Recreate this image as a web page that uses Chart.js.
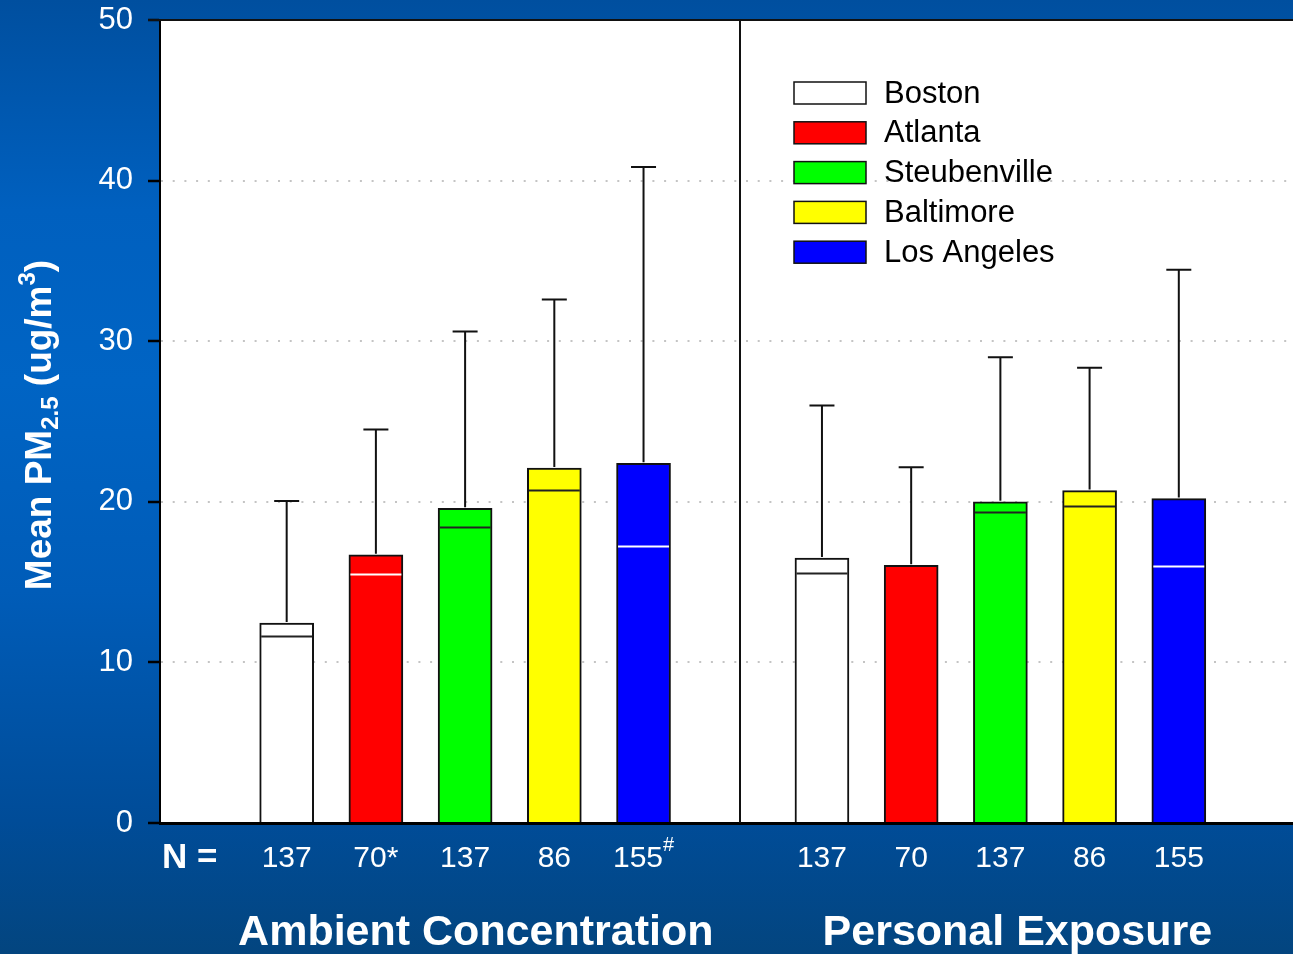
<!DOCTYPE html>
<html>
<head>
<meta charset="utf-8">
<title>Mean PM2.5 - Ambient vs Personal</title>
<script src="https://cdn.jsdelivr.net/npm/chart.js@4.4.0/dist/chart.umd.min.js"></script>
<style>
  html, body { margin: 0; padding: 0; }
  body {
    width: 1293px; height: 954px; overflow: hidden;
    background: linear-gradient(to bottom, #004f9f 0%, #0060bf 22%, #0064c4 40%, #005cb8 62%, #004c98 86%, #03457f 100%);
  }
  canvas { display: block; }
</style>
</head>
<body>
<canvas id="chart" width="1293" height="954"></canvas>
<script>
// ---- data ---------------------------------------------------------------
const cities = ["Boston", "Atlanta", "Steubenville", "Baltimore", "Los Angeles"];
const groups = ["Ambient Concentration", "Personal Exposure"];

const ambientMean   = [12.45, 16.7, 19.6, 22.1, 22.4];
const ambientMedian = [11.65, 15.5, 18.45, 20.75, 17.25];
const ambientUpper  = [20.05, 24.5, 30.6, 32.6, 40.85];
const ambientN      = [137, 70, 137, 86, 155];
const ambientNote   = ["", "*", "", "", "#"];

const personalMean   = [16.5, 16.05, 20.0, 20.7, 20.2];
const personalMedian = [15.55, null, 19.35, 19.75, 16.0];
const personalUpper  = [26.0, 22.15, 29.0, 28.35, 34.45];
const personalN      = [137, 70, 137, 86, 155];
const personalNote   = ["", "", "", "", ""];

const yTicks = [0, 10, 20, 30, 40, 50];

// ---- styling --------------------------------------------------------------
const cityColors   = ["#ffffff", "#ff0000", "#00ff00", "#ffff00", "#0000ff"];
const medianColors = ["#222222", "#ffffff", "#222222", "#222222", "#ffffff"];
const FONT = "Arial, 'Liberation Sans', sans-serif";

// slot of each bar on the x axis: ambient 1..5, personal 7..11
const ambientSlot = i => i + 1;
const personalSlot = i => i + 7;
const dividerAt = 6.08;
const groupLabelAt = [3.12, 9.19];

const datasets = cities.map((city, i) => ({
    label: city,
    data: [
        { x: ambientSlot(i), y: ambientMean[i], median: ambientMedian[i], upper: ambientUpper[i] },
        { x: personalSlot(i), y: personalMean[i], median: personalMedian[i], upper: personalUpper[i] }
    ],
    backgroundColor: cityColors[i],
    borderColor: "#111",
    borderWidth: 2,
    borderSkipped: "bottom",
    barThickness: 54,
    grouped: false,
    medianColor: medianColors[i]
}));

const decor = {
    id: "decor",
    beforeDraw(chart) {
        const { ctx, chartArea: a } = chart;
        ctx.save();
        ctx.fillStyle = "#ffffff";
        ctx.fillRect(a.left, a.top, a.right - a.left, a.bottom - a.top);
        ctx.restore();
    },
    afterDatasetsDraw(chart) {
        const { ctx } = chart;
        const y = chart.scales.y;
        ctx.save();
        chart.data.datasets.forEach((ds, di) => {
            const meta = chart.getDatasetMeta(di);
            meta.data.forEach((bar, j) => {
                const pt = ds.data[j];
                const half = bar.width / 2;
                // median line inside the bar
                if (pt.median != null) {
                    const ym = Math.round(y.getPixelForValue(pt.median)) + 0.5;
                    ctx.strokeStyle = ds.medianColor;
                    ctx.lineWidth = 2;
                    ctx.beginPath();
                    ctx.moveTo(bar.x - half + 1.5, ym);
                    ctx.lineTo(bar.x + half - 1.5, ym);
                    ctx.stroke();
                }
                // upper error bar
                const yu = y.getPixelForValue(pt.upper);
                ctx.strokeStyle = "#111";
                ctx.lineWidth = 2;
                ctx.beginPath();
                ctx.moveTo(bar.x, bar.y - 1);
                ctx.lineTo(bar.x, yu);
                ctx.moveTo(bar.x - 12.5, yu);
                ctx.lineTo(bar.x + 12.5, yu);
                ctx.stroke();
            });
        });
        ctx.restore();
    },
    afterDraw(chart) {
        const { ctx, chartArea: a } = chart;
        const x = chart.scales.x;
        ctx.save();

        // frame top and divider between the two groups
        ctx.strokeStyle = "#111";
        ctx.lineWidth = 2;
        ctx.beginPath();
        ctx.moveTo(a.left - 12, a.top);
        ctx.lineTo(a.right, a.top);
        const xd = Math.round(x.getPixelForValue(dividerAt));
        ctx.moveTo(xd, a.top);
        ctx.lineTo(xd, a.bottom);
        ctx.stroke();

        // legend
        const lx = a.left + 634, ly = a.top + 62;
        ctx.font = "31px " + FONT;
        ctx.textBaseline = "middle";
        ctx.textAlign = "left";
        cities.forEach((city, i) => {
            const ry = ly + i * 39.8;
            ctx.fillStyle = cityColors[i];
            ctx.fillRect(lx, ry, 72, 22);
            ctx.strokeStyle = "#111";
            ctx.lineWidth = 1.5;
            ctx.strokeRect(lx, ry, 72, 22);
            ctx.fillStyle = "#000";
            ctx.fillText(city, lx + 90, ry + 12);
        });

        // N counts under each bar
        ctx.fillStyle = "#ffffff";
        ctx.textBaseline = "alphabetic";
        ctx.font = "bold 35px " + FONT;
        ctx.textAlign = "left";
        ctx.fillText("N =", a.left + 2, a.bottom + 45);
        const drawN = (n, note, slot) => {
            const cx = x.getPixelForValue(slot);
            ctx.font = "30px " + FONT;
            const wn = ctx.measureText(String(n)).width;
            let wNote = 0;
            if (note) {
                ctx.font = (note === "#" ? "20px " : "30px ") + FONT;
                wNote = ctx.measureText(note).width;
            }
            const x0 = cx - (wn + wNote) / 2;
            ctx.font = "30px " + FONT;
            ctx.fillText(String(n), x0, a.bottom + 44);
            if (note) {
                ctx.font = (note === "#" ? "20px " : "30px ") + FONT;
                ctx.fillText(note, x0 + wn, a.bottom + (note === "#" ? 28 : 44));
            }
        };
        cities.forEach((c, i) => {
            drawN(ambientN[i], ambientNote[i], ambientSlot(i));
            drawN(personalN[i], personalNote[i], personalSlot(i));
        });

        // group titles
        ctx.font = "bold 43px " + FONT;
        ctx.textAlign = "center";
        groups.forEach((g, k) => {
            ctx.fillText(g, x.getPixelForValue(groupLabelAt[k]), a.bottom + 122);
        });

        // y axis title with sub/superscripts
        const parts = [
            { t: "Mean PM", size: 37, dy: 0 },
            { t: "2.5", size: 24, dy: 7 },
            { t: " (ug/m", size: 37, dy: 0 },
            { t: "3", size: 24, dy: -16 },
            { t: ")", size: 37, dy: 0 }
        ];
        let total = 0;
        parts.forEach(p => {
            ctx.font = "bold " + p.size + "px " + FONT;
            p.w = ctx.measureText(p.t).width;
            total += p.w;
        });
        ctx.translate(51, 425);
        ctx.rotate(-Math.PI / 2);
        ctx.textAlign = "left";
        let px = -total / 2;
        parts.forEach(p => {
            ctx.font = "bold " + p.size + "px " + FONT;
            ctx.fillText(p.t, px, p.dy);
            px += p.w;
        });
        ctx.restore();
    }
};

new Chart(document.getElementById("chart"), {
    type: "bar",
    data: { datasets },
    options: {
        responsive: false,
        animation: false,
        devicePixelRatio: 1,
        layout: { padding: { top: 20, right: 0, left: 0, bottom: 0 } },
        plugins: {
            legend: { display: false },
            tooltip: { enabled: false }
        },
        scales: {
            x: {
                type: "linear",
                min: -0.42,
                max: 12.28,
                offset: false,
                ticks: { display: false },
                grid: { display: false, offset: false },
                border: { display: true, color: "#000", width: 3 },
                afterFit: s => { s.height = 131; }
            },
            y: {
                min: 0,
                max: 50,
                afterBuildTicks: s => { s.ticks = yTicks.map(v => ({ value: v })); },
                ticks: {
                    color: "#ffffff",
                    font: { family: FONT, size: 31 },
                    padding: 15
                },
                grid: {
                    color: c => (c.tick && c.tick.value > 0 && c.tick.value < 50) ? "#c4c4c4" : "rgba(0,0,0,0)",
                    lineWidth: 2,
                    tickColor: "#000",
                    tickLength: 12,
                    tickWidth: 2.5,
                    tickBorderDash: []
                },
                border: { display: true, color: "#000", width: 2, dash: [2, 9.7] },
                afterFit: s => {
                    s.width = 160;
                    s.paddingTop = 0;
                    s.paddingBottom = 0;
                }
            }
        }
    },
    plugins: [decor]
});
</script>
</body>
</html>
